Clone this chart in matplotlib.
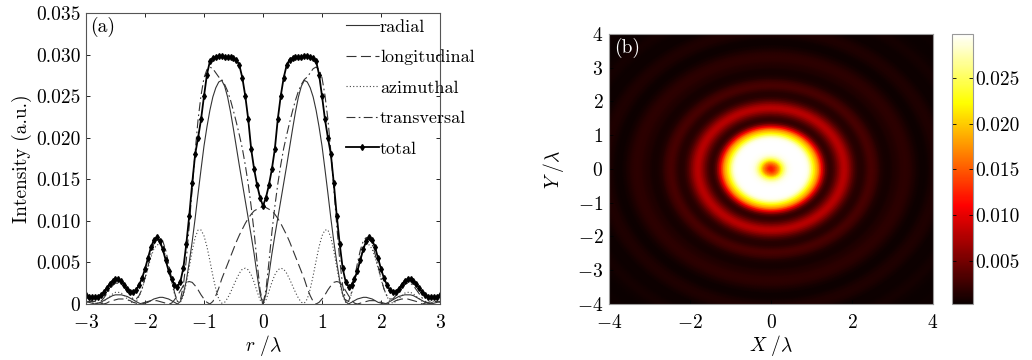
import numpy as np
import matplotlib
matplotlib.use('Agg')
import matplotlib.pyplot as plt

plt.rcParams['font.family'] = ['cmr10', 'DejaVu Serif']
plt.rcParams['mathtext.fontset'] = 'cm'
plt.rcParams['axes.formatter.use_mathtext'] = True
plt.rcParams['font.size'] = 14

# radial positions (r/lambda), right half; the profiles are symmetric
r_half = np.round(np.arange(0, 3.001, 0.05), 2)

radial = [0.0000, 0.0012, 0.0035, 0.0060, 0.0082, 0.0103, 0.0124, 0.0145, 0.0166, 0.0188,
          0.0210, 0.0231, 0.0249, 0.0262, 0.0269, 0.0267, 0.0260, 0.0249, 0.0233, 0.0213,
          0.0190, 0.0162, 0.0133, 0.0103, 0.0075, 0.0050, 0.0028, 0.0012, 0.0003, 0.0000,
          0.0002, 0.0004, 0.0006, 0.0007, 0.0008, 0.0008, 0.0007, 0.0006, 0.0004, 0.0002,
          0.0001, 0.0000, 0.0001, 0.0003, 0.0005, 0.0007, 0.0009, 0.0010, 0.0011, 0.0011,
          0.0011, 0.0010, 0.0008, 0.0006, 0.0004, 0.0002, 0.0001, 0.0000, 0.0001, 0.0002,
          0.0003]

longitudinal = [0.0117, 0.0116, 0.0114, 0.0112, 0.0108, 0.0103, 0.0097, 0.0090, 0.0083, 0.0075,
                0.0066, 0.0057, 0.0048, 0.0039, 0.0030, 0.0019, 0.0010, 0.0003, 0.0000, 0.0002,
                0.0006, 0.0011, 0.0017, 0.0022, 0.0026, 0.0027, 0.0026, 0.0022, 0.0016, 0.0010,
                0.0005, 0.0001, 0.0000, 0.0001, 0.0002, 0.0003, 0.0004, 0.0004, 0.0004, 0.0003,
                0.0002, 0.0001, 0.0000, 0.0001, 0.0002, 0.0004, 0.0005, 0.0006, 0.0006, 0.0006,
                0.0005, 0.0004, 0.0003, 0.0001, 0.0000, 0.0001, 0.0002, 0.0003, 0.0003, 0.0003,
                0.0002]

azimuthal = [0.0000, 0.0005, 0.0015, 0.0026, 0.0035, 0.0041, 0.0043, 0.0042, 0.0037, 0.0030,
             0.0022, 0.0014, 0.0007, 0.0002, 0.0001, 0.0006, 0.0018, 0.0034, 0.0052, 0.0069,
             0.0082, 0.0089, 0.0089, 0.0080, 0.0064, 0.0044, 0.0025, 0.0010, 0.0002, 0.0003,
             0.0012, 0.0027, 0.0043, 0.0058, 0.0068, 0.0072, 0.0071, 0.0066, 0.0056, 0.0043,
             0.0030, 0.0018, 0.0009, 0.0003, 0.0001, 0.0003, 0.0006, 0.0010, 0.0013, 0.0014,
             0.0014, 0.0012, 0.0009, 0.0006, 0.0003, 0.0001, 0.0000, 0.0001, 0.0003, 0.0004,
             0.0005]

transversal = [0.0000, 0.0017, 0.0050, 0.0086, 0.0117, 0.0144, 0.0167, 0.0187, 0.0203, 0.0218,
               0.0232, 0.0245, 0.0256, 0.0264, 0.0270, 0.0273, 0.0278, 0.0283, 0.0285, 0.0282,
               0.0272, 0.0251, 0.0222, 0.0183, 0.0139, 0.0094, 0.0053, 0.0022, 0.0005, 0.0003,
               0.0014, 0.0031, 0.0049, 0.0065, 0.0076, 0.0080, 0.0078, 0.0072, 0.0060, 0.0045,
               0.0031, 0.0018, 0.0010, 0.0006, 0.0006, 0.0010, 0.0015, 0.0020, 0.0024, 0.0025,
               0.0025, 0.0022, 0.0017, 0.0012, 0.0007, 0.0003, 0.0001, 0.0001, 0.0004, 0.0006,
               0.0008]

total = [0.0118, 0.0128, 0.0143, 0.0162, 0.0186, 0.0222, 0.0250, 0.0272, 0.0287, 0.0294,
         0.0296, 0.0297, 0.0297, 0.0297, 0.0298, 0.0298, 0.0297, 0.0296, 0.0292, 0.0276,
         0.0250, 0.0222, 0.0200, 0.0180, 0.0145, 0.0106, 0.0072, 0.0043, 0.0027, 0.0021,
         0.0023, 0.0030, 0.0040, 0.0053, 0.0066, 0.0076, 0.0080, 0.0077, 0.0068, 0.0055,
         0.0042, 0.0031, 0.0023, 0.0017, 0.0015, 0.0015, 0.0018, 0.0023, 0.0028, 0.0030,
         0.0030, 0.0028, 0.0024, 0.0019, 0.0014, 0.0011, 0.0009, 0.0008, 0.0008, 0.0009,
         0.0011]

# total intensity beyond r = 3 (needed for the corners of the 2D map)
r_outer = [3.1, 3.2, 3.3, 3.4, 3.5, 3.6, 3.7, 3.8, 3.9, 4.0, 4.1, 4.2, 4.3, 4.4,
           4.5, 4.6, 4.7, 4.8, 4.9, 5.0, 5.1, 5.2, 5.3, 5.4, 5.5, 5.6, 5.7]
total_outer = [0.0014, 0.0017, 0.0018, 0.0017, 0.0013, 0.0008, 0.0005, 0.0005, 0.0008, 0.0011,
               0.0012, 0.0011, 0.0008, 0.0005, 0.0004, 0.0005, 0.0007, 0.0008, 0.0008, 0.0006,
               0.0004, 0.0003, 0.00027, 0.0004, 0.0005, 0.0005, 0.0004]

y_ticks = [0, 0.005, 0.010, 0.015, 0.020, 0.025, 0.030, 0.035]
y_labels = ['0', '0.005', '0.010', '0.015', '0.020', '0.025', '0.030', '0.035']
cb_ticks = [0.005, 0.010, 0.015, 0.020, 0.025]
cb_labels = ['0.005', '0.010', '0.015', '0.020', '0.025']


def mirror(v):
    v = np.asarray(v)
    return np.concatenate([v[::-1], v[1:]])


r_full = np.concatenate([-r_half[::-1], r_half[1:]])

fig = plt.figure(figsize=(10.32, 3.6), dpi=100)

# ---- (a) line profiles ----
ax = fig.add_axes([0.0833, 0.1556, 0.3431, 0.8083])
ax.plot(r_full, mirror(radial), '-', color='#333333', lw=0.8, label='radial')
ax.plot(r_full, mirror(longitudinal), color='#333333', lw=0.8, dashes=(9, 4),
        label='longitudinal')
ax.plot(r_full, mirror(azimuthal), color='#444444', lw=0.8, dashes=(1, 2),
        label='azimuthal')
ax.plot(r_full, mirror(transversal), color='#333333', lw=0.8, dashes=(8, 3, 1.5, 3),
        label='transversal')
ax.plot(r_full, mirror(total), '-', color='k', lw=1.3, marker='d', ms=3,
        mfc='k', mec='k', label='total')

ax.set_xlim(-3, 3)
ax.set_ylim(0, 0.035)
ax.set_xticks([-3, -2, -1, 0, 1, 2, 3])
ax.set_yticks(y_ticks, labels=y_labels)
ax.tick_params(direction='in', top=True, right=True, length=3, width=0.6, pad=4)
ax.tick_params(axis='x', pad=7)
for s in ax.spines.values():
    s.set_color('#555555')
    s.set_linewidth(0.8)
ax.set_xlabel(r'$r\ /\lambda$', labelpad=1)
ax.set_ylabel('Intensity (a.u.)', labelpad=3)
ax.text(0.012, 0.985, '(a)', transform=ax.transAxes, va='top', ha='left')

leg = ax.legend(loc='upper left', bbox_to_anchor=(0.335, 0.947),
                bbox_transform=fig.transFigure, frameon=False, fontsize=13,
                handlelength=1.85, handletextpad=0.05, labelspacing=0.82,
                borderpad=0, borderaxespad=0, numpoints=1)

# ---- (b) 2D intensity map ----
ax2 = fig.add_axes([0.5901, 0.1556, 0.3140, 0.75])
map_r = np.concatenate([r_half, r_outer])
map_i = np.concatenate([total, total_outer])
theta = np.linspace(0, 2 * np.pi, 361)
R, T = np.meshgrid(map_r, theta)
C = np.tile(map_i, (len(theta), 1))
pm = ax2.pcolormesh(R * np.cos(T), R * np.sin(T), C, shading='gouraud',
                    cmap='hot', vmin=0.00027, vmax=0.0298)
ax2.set_xlim(-4, 4)
ax2.set_ylim(-4, 4)
ax2.set_xticks([-4, -2, 0, 2, 4])
ax2.set_yticks([-4, -3, -2, -1, 0, 1, 2, 3, 4])
ax2.tick_params(direction='in', length=3, width=0.6, color='k', pad=4)
ax2.tick_params(axis='x', pad=7)
for s in ax2.spines.values():
    s.set_color('#999999')
    s.set_linewidth(0.8)
ax2.set_xlabel(r'$X\ /\lambda$', labelpad=1)
ax2.set_ylabel(r'$Y\ /\lambda$', labelpad=8)
ax2.text(0.015, 0.985, '(b)', transform=ax2.transAxes, va='top', ha='left', color='white')

cax = fig.add_axes([0.9225, 0.1556, 0.0203, 0.75])
cb = fig.colorbar(pm, cax=cax)
cb.set_ticks(cb_ticks, labels=cb_labels)
cb.ax.tick_params(direction='in', left=True, right=True, length=3, width=0.6, pad=2)
cb.outline.set_edgecolor('#999999')
cb.outline.set_linewidth(0.8)

fig.savefig('out.png', dpi=100)
